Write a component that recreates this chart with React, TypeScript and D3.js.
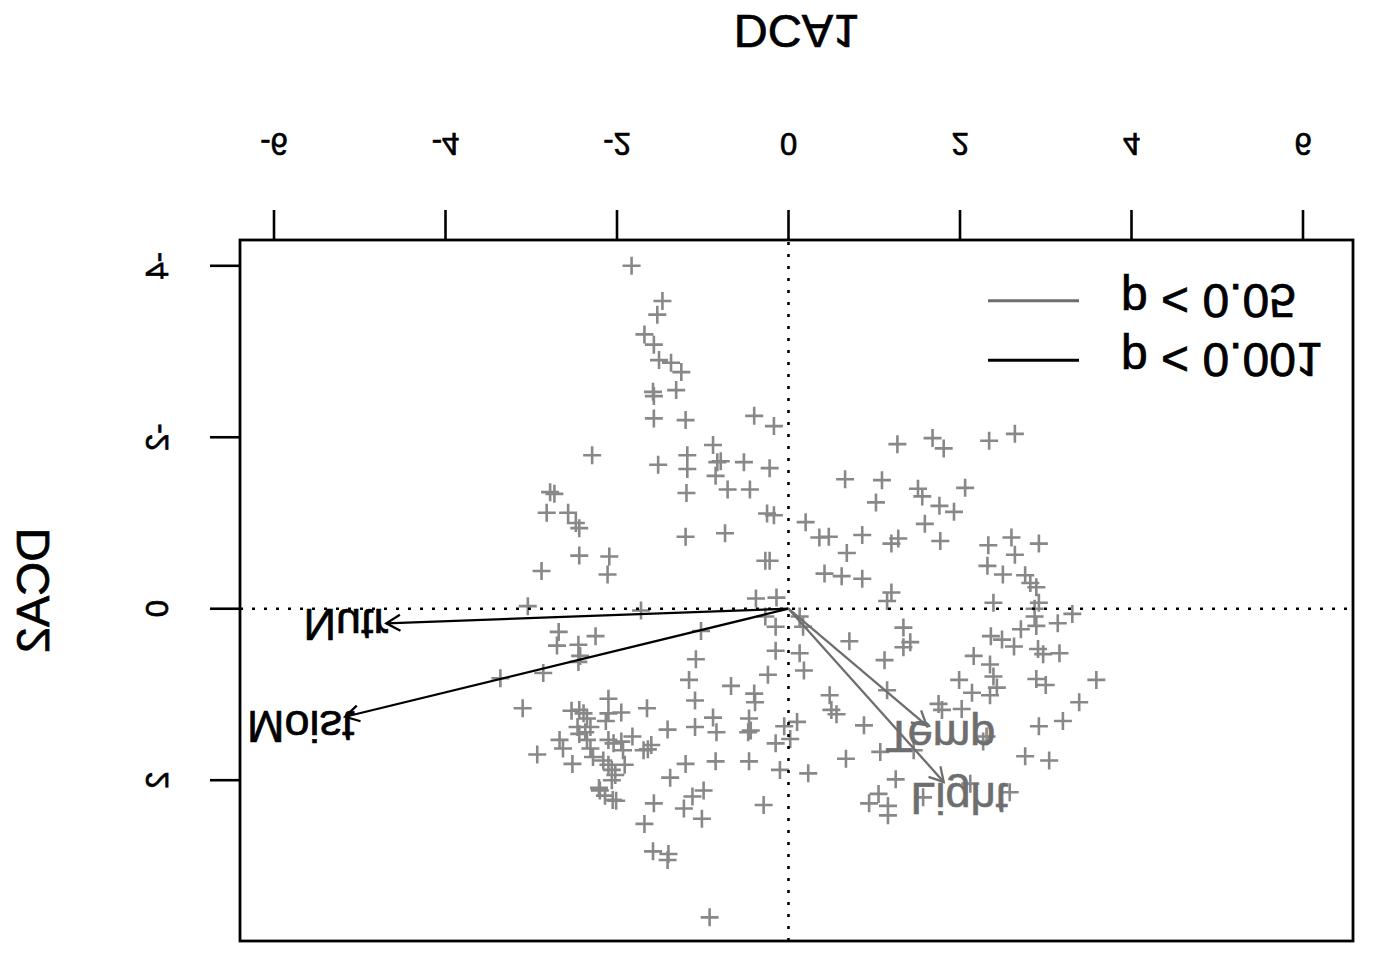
import React from "react";
import * as d3 from "d3";

const W = 1382;
const H = 970;

// axis ticks
const xTicks = [-6, -4, -2, 0, 2, 4, 6];
const yTicks = [-4, -2, 0, 2];

// site scores [DCA1, DCA2]
const siteScores: [number, number][] = [
  [-1.83, -4.0], [-1.47, -3.59], [-1.53, -3.43], [-1.68, -3.2], [-1.57, -3.08],
  [-1.51, -2.9], [-1.37, -2.87], [-1.25, -2.76], [-1.58, -2.53], [-1.57, -2.48],
  [-1.31, -2.55], [-1.57, -2.22], [-1.2, -2.2], [-0.4, -2.25], [-0.17, -2.13],
  [-0.88, -1.91], [-2.29, -1.79], [-1.18, -1.79], [-1.52, -1.68], [-0.79, -1.72],
  [-0.83, -1.71], [-0.52, -1.71], [-0.22, -1.64], [-1.18, -1.63], [-0.85, -1.55],
  [-2.78, -1.36], [-2.73, -1.34], [-1.19, -1.35], [-0.71, -1.39], [-0.45, -1.39],
  [-2.82, -1.12], [-2.57, -1.12], [-2.48, -1.0], [-2.44, -0.94], [-0.25, -1.11],
  [-0.17, -1.09], [-1.2, -0.84], [-0.74, -0.88], [-2.44, -0.62], [-2.09, -0.61],
  [-0.27, -0.56], [-0.22, -0.56], [-2.88, -0.44], [-2.11, -0.4], [-3.04, -0.03],
  [-1.72, 0.02], [-0.38, -0.12], [-0.14, -0.13], [-0.27, 0.09], [-0.15, 0.21],
  [-2.68, 0.27], [-2.25, 0.32], [-2.7, 0.43], [-2.45, 0.42], [-2.43, 0.55],
  [-2.45, 0.62], [-1.02, 0.26], [-1.08, 0.59], [-0.15, 0.49], [-3.36, 0.81],
  [-2.86, 0.75], [-1.16, 0.83], [-0.24, 0.77], [-0.67, 0.9], [-1.09, 1.07],
  [-0.4, 0.99], [-0.39, 1.09], [-2.1, 1.05], [-3.1, 1.16], [-1.65, 1.16],
  [-2.53, 1.19], [-2.44, 1.18], [-2.39, 1.22], [-2.35, 1.28], [-2.46, 1.38],
  [-2.31, 1.38], [-2.37, 1.44], [-2.44, 1.46], [-2.1, 1.22], [-1.95, 1.21],
  [-2.13, 1.31], [-0.88, 1.27], [-0.84, 1.44], [-1.09, 1.38], [-1.41, 1.41],
  [-0.46, 1.28], [-0.47, 1.44], [-0.44, 1.42], [-0.05, 1.37], [0.1, 1.32],
  [-0.15, 1.57], [0.02, 1.52], [-0.1, 1.88], [-2.67, 1.53], [-2.63, 1.63],
  [-2.93, 1.7], [-2.52, 1.81], [-2.35, 1.53], [-2.31, 1.63], [-2.28, 1.73],
  [-2.1, 1.53], [-2.04, 1.57], [-1.95, 1.55], [-1.82, 1.49], [-1.93, 1.65],
  [-1.69, 1.65], [-1.6, 1.59], [-1.64, 1.64], [-2.16, 1.77], [-2.1, 1.82],
  [-1.91, 1.82], [-2.06, 1.88], [-2.02, 1.94], [-2.06, 2.0], [-2.21, 2.09],
  [-2.2, 2.12], [-2.14, 2.18], [-2.01, 2.24], [-2.05, 2.23], [-1.38, 1.97],
  [-1.2, 1.81], [-0.85, 1.78], [-0.46, 1.78], [-1.57, 2.27], [-1.12, 2.19],
  [-0.99, 2.12], [-1.22, 2.33], [-1.01, 2.45], [-0.29, 2.29], [-1.68, 2.51],
  [-1.58, 2.83], [-1.4, 2.86], [-1.41, 2.93], [-0.92, 3.6],
  [1.27, -1.92], [1.68, -1.99], [1.81, -1.87], [2.34, -1.96], [2.64, -2.04],
  [0.66, -1.51], [1.09, -1.5], [1.51, -1.4], [1.56, -1.31], [2.06, -1.41],
  [1.02, -1.24], [1.76, -1.2], [1.93, -1.13], [0.2, -1.01], [1.59, -0.99],
  [0.36, -0.83], [0.47, -0.84], [0.86, -0.86], [1.2, -0.76], [1.28, -0.82],
  [1.77, -0.79], [0.68, -0.65], [2.33, -0.74], [2.6, -0.83], [2.92, -0.76],
  [2.64, -0.63], [2.32, -0.5], [2.5, -0.4], [2.76, -0.39], [2.82, -0.3],
  [2.89, -0.25], [0.42, -0.41], [0.62, -0.38], [0.86, -0.35], [1.2, -0.19],
  [1.15, -0.09], [2.39, -0.07], [2.92, -0.07], [2.87, 0.0], [2.87, 0.09],
  [3.31, 0.06], [3.14, 0.17], [2.89, 0.2], [2.71, 0.24], [0.13, 0.09],
  [0.17, 0.21], [1.34, 0.22], [0.71, 0.38], [1.42, 0.39], [1.34, 0.45],
  [2.36, 0.32], [2.49, 0.36], [2.63, 0.44], [0.13, 0.52], [0.18, 0.72],
  [1.12, 0.6], [2.16, 0.55], [2.35, 0.65], [2.91, 0.47], [2.97, 0.53],
  [3.16, 0.52], [1.99, 0.83], [2.14, 0.98], [2.39, 0.79], [2.43, 0.92],
  [2.35, 1.01], [2.89, 0.82], [3.0, 0.89], [3.59, 0.83], [3.39, 1.09],
  [0.48, 1.01], [0.5, 1.18], [0.56, 1.23], [1.15, 0.95], [1.75, 1.11],
  [1.79, 1.18], [2.02, 1.17], [0.88, 1.36], [2.31, 1.49], [2.27, 1.55],
  [2.92, 1.37], [3.2, 1.31], [2.76, 1.72], [3.04, 1.77], [1.07, 1.67],
  [1.46, 1.65], [0.67, 1.75], [0.23, 1.92], [1.25, 1.99], [1.05, 2.16],
  [0.94, 2.27], [1.16, 2.3], [1.16, 2.41], [1.57, 2.2], [2.12, 2.04],
  [2.58, 2.14],
];

// environmental vectors
const envNames = ["Nutr", "Moist", "Temp", "Light"];
const envDCA1 = [-4.69, -5.17, 1.61, 1.81];
const envDCA2 = [0.17, 1.26, 1.36, 2.02];
const envSignif = ["p < 0.001", "p < 0.001", "p < 0.05", "p < 0.05"];

// legend
const legendLabels = ["p < 0.001", "p < 0.05"];

const FONT = "'Liberation Sans', Arial, Helvetica, sans-serif";
const signifColor: Record<string, string> = {
  "p < 0.001": "#000000",
  "p < 0.05": "#6e6e6e",
};

export default function App() {
  // Original (unflipped) plot coordinates; the whole drawing is mirrored vertically.
  const box = { left: 240, right: 1353, top: 29, bottom: 730 };
  const x = d3.scaleLinear().domain([-6, 6]).range([274, 1303]);
  const y = d3.scaleLinear().domain([-4, 2]).range([704.2, 189.8]);

  const plus = (cx: number, cy: number) => {
    const s = 9;
    return `M${cx - s},${cy}H${cx + s}M${cx},${cy - s}V${cy + s}`;
  };

  const arrowHead = (x0: number, y0: number, x1: number, y1: number) => {
    const ang = Math.atan2(y1 - y0, x1 - x0);
    const len = 16;
    const a = Math.PI / 6;
    const p1 = [x1 - len * Math.cos(ang - a), y1 - len * Math.sin(ang - a)];
    const p2 = [x1 - len * Math.cos(ang + a), y1 - len * Math.sin(ang + a)];
    return `M${p1[0]},${p1[1]}L${x1},${y1}L${p2[0]},${p2[1]}`;
  };

  const tickFs = 31;
  const labFs = 45;
  const titleFs = 47;
  const legFs = 48;
  const labelMult = 1.1;

  const legendRowY = [609.7, 669.3];
  const textStroke = (c: string) => ({ stroke: c, strokeWidth: 0.7 });

  return (
    <svg
      width={W}
      height={H}
      style={{ position: "absolute", left: 0, top: 0, background: "#fff", display: "block" }}
      fontFamily={FONT}
    >
      <rect x={0} y={0} width={W} height={H} fill="#fff" />
      <g transform={`translate(0,${H}) scale(1,-1)`}>
        {/* points */}
        <path
          d={siteScores.map(([a, b]) => plus(x(a), y(b))).join("")}
          stroke="#888888"
          strokeWidth={2.6}
          fill="none"
        />

        {/* reference lines */}
        <line x1={x(0)} x2={x(0)} y1={box.top} y2={box.bottom} stroke="#000" strokeWidth={2.6} strokeDasharray="3,9" />
        <line x1={box.left} x2={box.right} y1={y(0)} y2={y(0)} stroke="#000" strokeWidth={2.6} strokeDasharray="3,9" />

        {/* arrows */}
        {envNames.map((n, i) => {
          const x0 = x(0), y0 = y(0);
          const x1 = x(envDCA1[i]), y1 = y(envDCA2[i]);
          const col = signifColor[envSignif[i]];
          return (
            <g key={n}>
              <line x1={x0} y1={y0} x2={x1} y2={y1} stroke={col} strokeWidth={2.3} />
              <path d={arrowHead(x0, y0, x1, y1)} stroke={col} strokeWidth={2.3} fill="none" />
            </g>
          );
        })}
        {envNames.map((n, i) => {
          const col = signifColor[envSignif[i]];
          return (
            <text
              key={n + "l"}
              x={x(envDCA1[i] * labelMult)}
              y={y(envDCA2[i] * labelMult) + 0.358 * labFs}
              fontSize={labFs}
              textAnchor="middle"
              fill={col}
              {...textStroke(col)}
            >
              {n}
            </text>
          );
        })}

        {/* box */}
        <rect
          x={box.left}
          y={box.top}
          width={box.right - box.left}
          height={box.bottom - box.top}
          fill="none"
          stroke="#000"
          strokeWidth={2.8}
        />

        {/* x axis */}
        {xTicks.map((t) => (
          <g key={"x" + t}>
            <line x1={x(t)} x2={x(t)} y1={box.bottom} y2={box.bottom + 30} stroke="#000" strokeWidth={2.6} />
            <text x={x(t)} y={837} fontSize={tickFs} textAnchor="middle" fill="#000" {...textStroke("#000")}>
              {t}
            </text>
          </g>
        ))}
        <text
          x={(box.left + box.right) / 2}
          y={955}
          fontSize={titleFs}
          textAnchor="middle"
          fill="#000"
          {...textStroke("#000")}
        >
          DCA1
        </text>

        {/* y axis */}
        {yTicks.map((t) => (
          <g key={"y" + t}>
            <line x1={box.left} x2={box.left - 30} y1={y(t)} y2={y(t)} stroke="#000" strokeWidth={2.6} />
            <text
              transform={`translate(168,${y(t)}) rotate(-90)`}
              fontSize={tickFs}
              textAnchor="middle"
              fill="#000"
              {...textStroke("#000")}
            >
              {t}
            </text>
          </g>
        ))}
        <text
          transform={`translate(49,${(box.top + box.bottom) / 2}) rotate(-90)`}
          fontSize={titleFs}
          textAnchor="middle"
          fill="#000"
          {...textStroke("#000")}
        >
          DCA2
        </text>

        {/* legend */}
        {legendLabels.map((lab, i) => (
          <g key={lab}>
            <line
              x1={988}
              x2={1079}
              y1={legendRowY[i]}
              y2={legendRowY[i]}
              stroke={signifColor[lab]}
              strokeWidth={3}
            />
            <text
              x={1121}
              y={legendRowY[i] + 0.358 * legFs}
              fontSize={legFs}
              fill="#000"
              {...textStroke("#000")}
            >
              {lab}
            </text>
          </g>
        ))}
      </g>
    </svg>
  );
}
